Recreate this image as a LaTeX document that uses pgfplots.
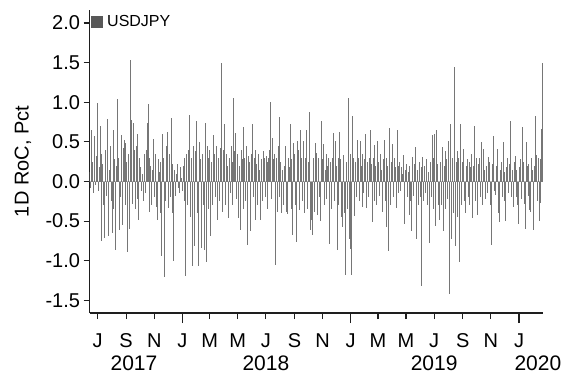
\documentclass[border=0pt]{standalone}
\usepackage{pgfplots}
\pgfplotsset{compat=1.18}
\usepackage{pgfplotstable}
\usepackage{fontspec}
\setmainfont{Liberation Sans}
\definecolor{bargray}{RGB}{118,118,118}
\definecolor{leggray}{RGB}{88,88,88}
\definecolor{axisblack}{RGB}{30,30,30}

% USDJPY one-day rate of change (%), one value per ~2 calendar days, from mid-June 2017 to Feb 2020
\pgfplotstableread[row sep=\\]{
ret\\
0.12\\-0.08\\0.65\\0.25\\-0.15\\0.58\\-0.05\\0.32\\0.99\\-0.12\\
0.18\\0.70\\0.35\\-0.75\\0.22\\-0.30\\-0.71\\0.40\\-0.18\\0.79\\
-0.69\\0.15\\0.45\\-0.25\\-0.65\\0.65\\-0.35\\0.28\\-0.86\\0.20\\
1.04\\0.30\\-0.61\\-0.20\\0.59\\-0.55\\0.42\\0.53\\-0.30\\0.48\\
0.25\\-0.89\\0.35\\-0.60\\1.54\\0.78\\-0.28\\0.74\\0.40\\-0.35\\
0.45\\-0.22\\0.60\\-0.48\\0.30\\0.18\\-0.12\\0.10\\-0.25\\0.35\\
-0.15\\0.40\\0.74\\0.98\\-0.38\\0.30\\0.20\\-0.30\\0.15\\0.54\\
-0.20\\0.35\\-0.32\\-0.48\\0.28\\0.12\\-0.40\\0.25\\-0.94\\0.60\\
0.30\\-1.21\\-0.25\\0.45\\0.62\\-0.34\\0.35\\-0.20\\0.80\\0.22\\
-0.40\\-1.00\\0.15\\-0.18\\0.10\\0.22\\-0.08\\-0.15\\0.18\\0.05\\
-0.12\\0.20\\0.30\\-0.25\\-1.19\\0.35\\-0.30\\0.40\\0.84\\-0.45\\
0.30\\-1.07\\0.45\\-0.82\\0.38\\0.25\\0.77\\-0.40\\-1.07\\0.50\\
0.28\\-0.84\\0.35\\-0.30\\-0.86\\0.74\\-1.01\\0.45\\-0.35\\0.30\\
0.40\\-0.69\\0.25\\-0.30\\0.59\\0.35\\-0.20\\0.45\\-0.48\\0.30\\
-0.25\\0.42\\0.28\\1.50\\-0.38\\0.40\\0.72\\-0.30\\0.35\\0.20\\
-0.46\\0.30\\-0.15\\0.45\\0.25\\-0.30\\1.05\\0.38\\0.61\\-0.22\\
0.35\\-0.46\\0.20\\-0.61\\0.40\\0.28\\-0.35\\0.69\\0.30\\-0.25\\
0.45\\-0.80\\0.32\\0.25\\-0.63\\0.35\\0.72\\-0.20\\0.30\\-0.48\\
0.40\\0.22\\-0.30\\0.35\\0.15\\-0.48\\0.28\\-0.25\\0.38\\0.30\\
-0.20\\0.32\\0.25\\-0.35\\0.30\\0.40\\1.00\\-0.22\\0.55\\0.28\\
0.35\\-1.05\\0.30\\-0.38\\0.45\\-0.20\\0.82\\0.25\\-0.40\\0.15\\
-0.30\\0.20\\0.45\\-0.38\\-0.41\\0.30\\0.18\\0.73\\-0.35\\0.28\\
-0.68\\0.49\\0.35\\-0.30\\-0.76\\0.51\\0.40\\-0.36\\0.65\\0.30\\
-0.25\\0.51\\0.35\\-0.40\\0.30\\0.65\\-0.35\\0.25\\0.88\\-0.61\\
-0.49\\-0.67\\0.30\\-0.38\\0.48\\0.25\\0.36\\-0.42\\0.30\\-0.20\\
-0.50\\0.76\\0.28\\0.47\\-0.30\\0.15\\0.35\\-0.22\\0.20\\0.30\\
-0.79\\0.25\\-0.35\\0.30\\0.61\\-0.25\\0.51\\0.20\\-0.87\\0.30\\
-0.30\\0.63\\0.28\\-0.45\\-0.58\\0.34\\-0.40\\-1.18\\0.25\\-0.35\\
1.06\\-0.73\\0.35\\-0.85\\-1.18\\0.83\\0.30\\-0.44\\0.25\\-0.20\\
0.53\\0.30\\-0.25\\0.51\\0.20\\-0.32\\0.35\\-0.15\\0.28\\0.60\\
-0.34\\0.25\\-0.20\\0.30\\0.65\\0.22\\-0.51\\0.30\\-0.25\\0.46\\
0.20\\-0.30\\0.51\\0.25\\-0.18\\0.35\\0.15\\-0.39\\0.28\\0.52\\
-0.25\\0.30\\-0.58\\0.20\\-0.88\\0.67\\-0.30\\0.25\\0.47\\-0.20\\
0.30\\0.18\\-0.33\\0.65\\0.20\\-0.15\\0.25\\-0.12\\0.18\\0.10\\
0.33\\-0.54\\0.15\\0.22\\-0.20\\0.12\\-0.42\\0.20\\-0.25\\-0.62\\
0.31\\-0.18\\0.22\\0.44\\-0.73\\0.15\\-0.30\\0.25\\-0.20\\-1.32\\
0.18\\0.31\\-0.25\\0.20\\-0.15\\0.28\\-0.30\\0.12\\-0.78\\0.25\\
-0.20\\0.59\\0.30\\-0.35\\0.60\\-0.56\\0.65\\0.22\\-0.30\\-0.48\\
0.25\\-0.30\\0.43\\-0.63\\0.20\\0.38\\-0.35\\0.28\\-0.22\\0.51\\
-1.42\\0.73\\-0.73\\0.30\\-0.40\\1.44\\-0.82\\0.25\\0.38\\-0.45\\
0.30\\-1.02\\0.73\\-0.30\\0.25\\0.41\\-0.25\\-0.40\\0.20\\0.29\\
-0.20\\0.25\\-0.30\\0.18\\0.35\\-0.46\\0.20\\0.70\\-0.25\\0.30\\
-0.42\\0.22\\0.30\\-0.20\\0.18\\0.50\\-0.30\\0.41\\0.15\\-0.22\\
0.20\\-0.15\\0.31\\0.25\\-0.30\\-0.80\\0.18\\0.22\\0.58\\-0.12\\
-0.17\\0.20\\0.41\\-0.40\\-0.51\\0.15\\0.25\\-0.20\\0.50\\0.12\\
-0.25\\-0.50\\0.18\\0.30\\-0.15\\0.22\\0.76\\-0.20\\0.15\\-0.32\\
0.25\\0.32\\-0.20\\0.15\\-0.30\\-0.54\\0.18\\0.28\\-0.22\\0.69\\
0.25\\-0.28\\-0.60\\0.50\\0.20\\-0.18\\0.22\\-0.36\\-0.38\\0.30\\
0.15\\-0.61\\0.20\\0.83\\0.34\\-0.25\\0.30\\-0.50\\-0.27\\0.28\\
0.66\\1.49\\
}\usdjpy

\begin{document}
\begin{tikzpicture}
\begin{axis}[
  at={(89.5pt,60pt)}, anchor=south west,
  scale only axis, width=453.5pt, height=303pt,
  xmin=-201.5, xmax=782, ymin=-1.66, ymax=2.165,
  axis x line*=bottom, axis y line*=left,
  axis line style={axisblack, line width=1.3pt},
  tick style={axisblack, line width=1.2pt},
  tick align=outside,
  major tick length=6pt,
  xtick={-184,-122,-61,0,59,120,181,243,304,365,424,485,546,608,669,730},
  xticklabels={J,S,N,J,M,M,J,S,N,J,M,M,J,S,N,J},
  extra x ticks={0,365,730},
  extra x tick labels={},
  extra x tick style={major tick length=10pt},
  ytick={-1.5,-1,-0.5,0,0.5,1,1.5,2},
  yticklabels={-1.5,-1.0,-0.5,0.0,0.5,1.0,1.5,2.0},
  ticklabel style={font=\fontsize{20}{20}\selectfont},
  xticklabel style={yshift=-11pt},
  ylabel={1D RoC, Pct},
  ylabel style={font=\fontsize{20}{20}\selectfont, at={(axis description cs:-0.147,0.5)}, anchor=center},
  clip mode=individual,
  legend style={at={(axis description cs:0,1)}, anchor=north west, draw=none, fill=none,
    font=\fontsize{16}{16}\selectfont, inner xsep=1pt, inner ysep=3pt},
  legend image code/.code={\fill[leggray] (0pt,-5.5pt) rectangle (11pt,5.5pt); \path (14pt,0pt);},
]
\addplot[forget plot, draw=gray!55, line width=0.6pt] coordinates {(-201.5,0) (782,0)};
\addplot[ycomb, draw=bargray, line width=0.5pt, mark=none] table[x expr=-201+2*\coordindex, y=ret]{\usdjpy};
\addlegendentry{USDJPY}
\node[anchor=base, inner sep=0pt, font=\fontsize{21}{21}\selectfont, yshift=-57pt] at (axis cs:-105,-1.66) {2017};
\node[anchor=base, inner sep=0pt, font=\fontsize{21}{21}\selectfont, yshift=-57pt] at (axis cs:181,-1.66) {2018};
\node[anchor=base, inner sep=0pt, font=\fontsize{21}{21}\selectfont, yshift=-57pt] at (axis cs:546,-1.66) {2019};
\node[anchor=base, inner sep=0pt, font=\fontsize{21}{21}\selectfont, yshift=-57pt] at (axis cs:771,-1.66) {2020};
\end{axis}
\pgfresetboundingbox
\path[use as bounding box] (0,0) rectangle (565pt,373pt);
\end{tikzpicture}
\end{document}
